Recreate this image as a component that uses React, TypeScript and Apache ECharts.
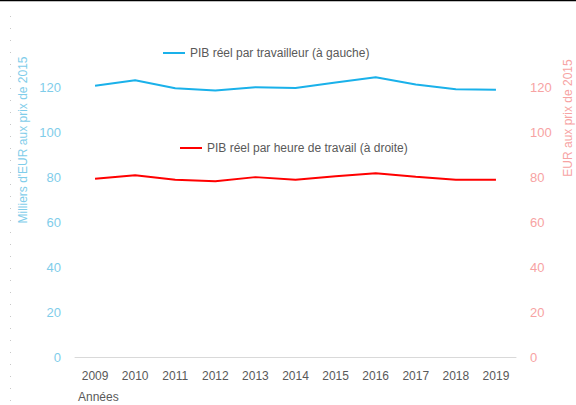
import React, { useEffect, useRef } from "react";
import * as echarts from "echarts";

const years = ["2009", "2010", "2011", "2012", "2013", "2014", "2015", "2016", "2017", "2018", "2019"];
const perWorker = [120.9, 123.4, 119.8, 118.8, 120.3, 119.9, 122.4, 124.7, 121.5, 119.4, 119.2];
const perHour = [79.5, 81.0, 79.0, 78.4, 80.2, 79.0, 80.6, 81.9, 80.4, 79.0, 79.0];
const nameWorker = "PIB réel par travailleur (à gauche)";
const nameHour = "PIB réel par heure de travail (à droite)";
const leftTitle = "Milliers d'EUR aux prix de 2015";
const rightTitle = "EUR aux prix de 2015";
const xTitle = "Années";

const FONT = "Liberation Sans, Arial, sans-serif";

export default function App() {
  const ref = useRef<HTMLDivElement>(null);
  useEffect(() => {
    if (!ref.current) return;
    const chart = echarts.init(ref.current, null, { renderer: "svg" });
    chart.setOption({
      animation: false,
      backgroundColor: "#fff",
      textStyle: { fontFamily: FONT },
      grid: { left: 75, right: 60, top: 43, bottom: 48 },
      legend: [
        {
          data: [nameWorker],
          left: 163,
          top: 47,
          padding: 0,
          icon: "rect",
          itemWidth: 22,
          itemHeight: 2,
          textStyle: { color: "#595959", fontSize: 12, fontFamily: FONT },
        },
        {
          data: [nameHour],
          left: 180,
          top: 142,
          padding: 0,
          icon: "rect",
          itemWidth: 22,
          itemHeight: 2,
          textStyle: { color: "#595959", fontSize: 12, fontFamily: FONT },
        },
      ],
      xAxis: {
        type: "category",
        data: years,
        boundaryGap: true,
        axisLine: { lineStyle: { color: "#d9d9d9", width: 1 } },
        axisTick: { show: false },
        axisLabel: { color: "#595959", fontSize: 12, margin: 13, fontFamily: FONT },
      },
      yAxis: [
        {
          type: "value",
          min: 0,
          max: 140,
          interval: 20,
          splitLine: { show: false },
          axisLine: { show: false },
          axisTick: { show: false },
          axisLabel: { color: "#7fcdea", fontSize: 13, margin: 14, showMaxLabel: false, fontFamily: FONT },
        },
        {
          type: "value",
          min: 0,
          max: 140,
          interval: 20,
          position: "right",
          splitLine: { show: false },
          axisLine: { show: false },
          axisTick: { show: false },
          axisLabel: { color: "#f7a3a3", fontSize: 13, margin: 14, showMaxLabel: false, fontFamily: FONT },
        },
      ],
      series: [
        {
          name: nameWorker,
          type: "line",
          data: perWorker,
          yAxisIndex: 0,
          symbol: "none",
          lineStyle: { color: "#1ab1ea", width: 2 },
          itemStyle: { color: "#1ab1ea" },
        },
        {
          name: nameHour,
          type: "line",
          data: perHour,
          yAxisIndex: 1,
          symbol: "none",
          lineStyle: { color: "#ff0000", width: 2 },
          itemStyle: { color: "#ff0000" },
        },
      ],
      graphic: [
        {
          type: "line",
          shape: { x1: 0, y1: 0.5, x2: 576, y2: 0.5 },
          style: { stroke: "#000", lineWidth: 1.5 },
        },
        {
          type: "line",
          shape: { x1: 10.5, y1: 16, x2: 10.5, y2: 405 },
          style: { stroke: "#c8c8c8", lineWidth: 1, lineDash: [1, 11] },
        },
        {
          type: "text",
          x: 23,
          y: 140,
          rotation: Math.PI / 2,
          style: {
            text: leftTitle,
            fill: "#7fcdea",
            fontSize: 12,
            fontFamily: FONT,
            align: "center",
            verticalAlign: "middle",
          },
        },
        {
          type: "text",
          x: 568,
          y: 118,
          rotation: Math.PI / 2,
          style: {
            text: rightTitle,
            fill: "#f7a3a3",
            fontSize: 12,
            fontFamily: FONT,
            align: "center",
            verticalAlign: "middle",
          },
        },
        {
          type: "text",
          x: 78,
          y: 397,
          style: {
            text: xTitle,
            fill: "#595959",
            fontSize: 12,
            fontFamily: FONT,
            align: "left",
            verticalAlign: "middle",
          },
        },
      ],
    });
    return () => chart.dispose();
  }, []);
  return (
    <div
      ref={ref}
      style={{ position: "fixed", left: 0, top: 0, width: 576, height: 405 }}
    />
  );
}
